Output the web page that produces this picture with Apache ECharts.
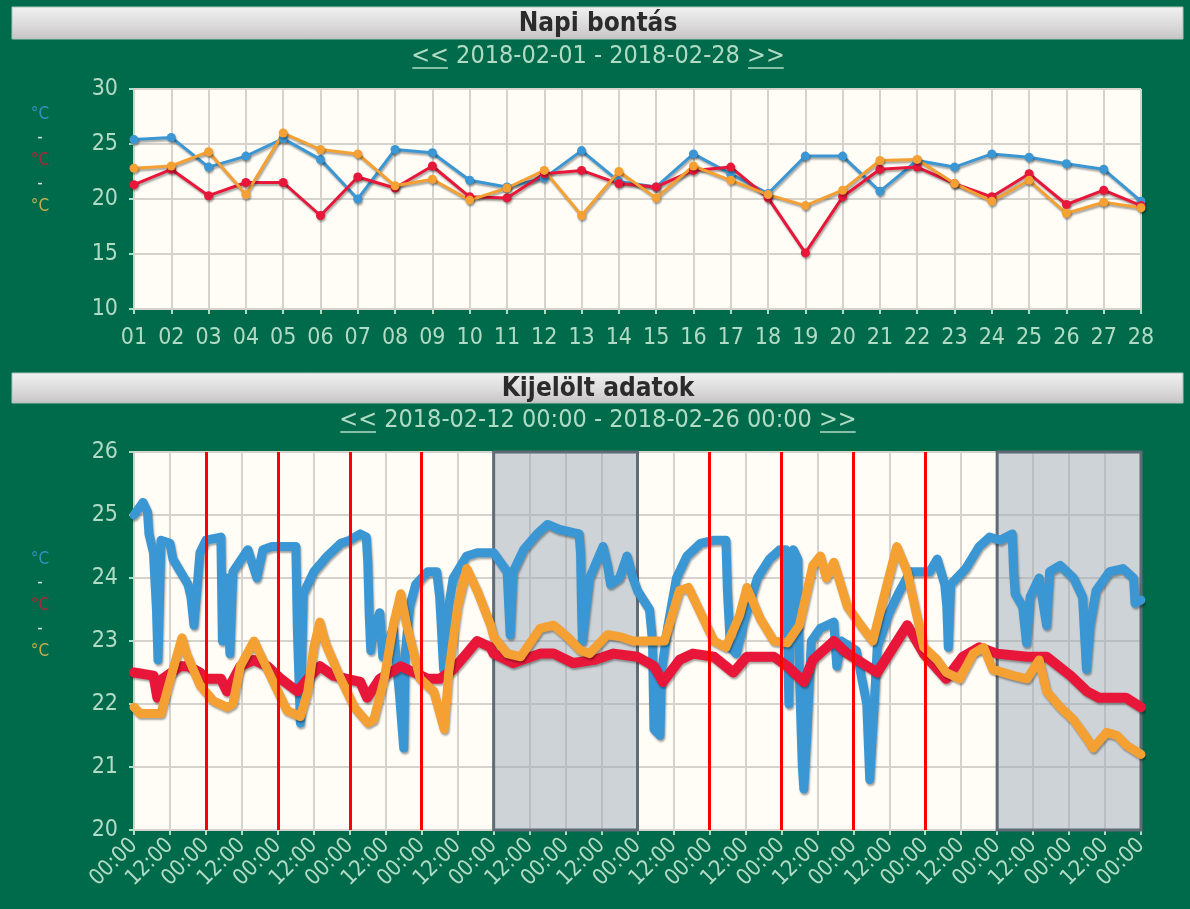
<!DOCTYPE html>
<html>
<head>
<meta charset="utf-8">
<title>Napi bontás</title>
<script src="https://cdn.jsdelivr.net/npm/echarts@6/dist/echarts.min.js"></script>
<style>
  html, body { margin: 0; padding: 0; background: #006b4a; }
  #chart { width: 1190px; height: 909px; }
</style>
</head>
<body>
<div id="chart"></div>
<script>
// napi bontás: 2018-02-01 .. 2018-02-28
var days = ['01','02','03','04','05','06','07','08','09','10','11','12','13','14',
            '15','16','17','18','19','20','21','22','23','24','25','26','27','28'];
var dailyBlue   = [25.4,25.6,22.9,23.9,25.5,23.6,20.0,24.5,24.2,21.7,21.1,21.9,24.4,21.6,
                   21.1,24.1,22.3,20.5,23.9,23.9,20.7,23.5,22.9,24.1,23.8,23.2,22.7,19.8];
var dailyRed    = [21.3,22.7,20.3,21.5,21.5,18.5,22.0,21.0,23.0,20.2,20.1,22.3,22.6,21.4,
                   21.1,22.6,22.9,20.1,15.1,20.2,22.7,22.9,21.4,20.2,22.3,19.5,20.8,19.4];
var dailyOrange = [22.8,23.0,24.3,20.4,26.0,24.5,24.1,21.2,21.8,19.9,21.0,22.6,18.5,22.5,
                   20.1,23.0,21.7,20.4,19.4,20.8,23.5,23.6,21.4,19.8,21.7,18.7,19.7,19.2];

// kijelölt adatok: 2018-02-12 00:00 .. 2018-02-26 00:00, [óra a kezdettől, °C]
var selBlue = [[0,25.0],[3,25.2],[4.5,25.05],[5,24.7],[6.5,24.4],[7.5,23.5],[8,22.7],[9,24.6],[12,24.55],
  [13,24.3],[18,23.9],[19,23.7],[20,23.25],[22,24.4],[24,24.6],[29,24.65],[29.5,23.0],[31,24.0],[32,22.8],
  [33,24.1],[38,24.45],[41,24.0],[43,24.45],[46,24.5],[54,24.5],[54.5,23.2],[55.5,21.7],[56,22.75],
  [56.5,23.75],[60,24.1],[64.5,24.35],[69,24.55],[72,24.6],[75.5,24.7],[77.5,24.65],[78,24.25],[78.5,23.4],
  [79,22.85],[80,23.2],[82,23.45],[83,22.75],[86.5,23.2],[88.5,22.2],[90,21.3],[90.5,22.8],[92,23.55],
  [94,23.9],[98,24.1],[101,24.1],[102,23.7],[103.3,22.55],[105,23.55],[106.5,24.0],[111,24.35],[114.5,24.4],
  [120,24.4],[124.5,24.1],[125.5,23.1],[126.5,24.1],[130,24.45],[134.5,24.7],[138,24.85],[142,24.77],
  [148.5,24.7],[149,24.4],[149.3,23.6],[149.6,23.0],[152,24.0],[156.5,24.5],[158,24.2],[159,23.9],[162,24.0],
  [164.5,24.35],[166.5,24.0],[168,23.8],[172,23.5],[173,23.0],[173.5,21.6],[175.5,21.5],[176,22.5],
  [178,23.2],[181,24.0],[184.5,24.35],[189,24.55],[193.5,24.6],[197.5,24.6],[198,23.8],[199,22.9],
  [201,22.8],[203.5,23.3],[208,24.0],[212,24.3],[215.5,24.45],[217.5,24.45],[218,23.3],[218.5,22.0],
  [219,23.5],[220,24.45],[221.5,24.3],[222,22.5],[223,21.0],[223.5,20.65],[224.5,21.5],[226,23.0],
  [229,23.2],[233.5,23.3],[234.5,22.6],[236,23.0],[241,22.85],[244.5,22.0],[245.5,20.8],[247,22.0],
  [248,22.9],[252,23.45],[255,23.75],[259,24.1],[265.5,24.1],[268,24.3],[270.5,23.9],[271.2,23.55],
  [271.7,22.9],[272.5,23.9],[277.5,24.15],[282,24.5],[285.5,24.65],[289,24.6],[293,24.7],[293.5,24.1],
  [294,23.75],[296.5,23.55],[297.8,22.97],[299,23.7],[302,24.0],[304.5,23.25],[305.5,24.1],[309,24.2],
  [313.5,24.0],[316.5,23.7],[317.8,22.55],[319,23.25],[321,23.8],[325.5,24.1],[330,24.15],[333.5,24.0],
  [334,23.6],[336,23.65]];
var selRed = [[0,22.5],[6.5,22.45],[7.8,22.1],[9.5,22.4],[15.5,22.6],[18,22.6],[22,22.5],[24,22.4],
  [29,22.4],[31,22.2],[35.5,22.6],[40,22.7],[44.5,22.6],[49,22.4],[54.5,22.2],[58,22.4],[62,22.6],
  [66.5,22.45],[71,22.4],[75.5,22.35],[77.8,22.1],[82,22.4],[89,22.6],[93.5,22.5],[98,22.4],[102,22.4],
  [106.5,22.55],[111,22.8],[114.5,23.0],[119,22.9],[120,22.8],[126.5,22.65],[135.5,22.8],[140,22.8],
  [146.5,22.65],[153.5,22.7],[160,22.8],[168,22.75],[173.5,22.6],[176.5,22.35],[182,22.7],[186.5,22.8],
  [193.5,22.75],[200,22.5],[204.5,22.75],[213.5,22.75],[218,22.6],[223.5,22.35],[226.5,22.7],[233.5,23.0],
  [238,22.8],[248,22.5],[258,23.25],[263.5,22.8],[271,22.4],[276.5,22.75],[282,22.9],[288,22.8],
  [298,22.75],[304.5,22.75],[312.5,22.45],[318,22.2],[322,22.1],[331,22.1],[336,21.95]];
var selOrange = [[0,21.95],[2,21.85],[9,21.85],[11,22.2],[14.5,22.8],[16,23.05],[17.5,22.8],[22,22.3],
  [26.5,22.05],[31,21.95],[33,22.0],[35.5,22.6],[40,23.0],[42,22.8],[46.5,22.35],[51,21.9],[55.5,21.8],
  [58,22.2],[60,22.9],[62,23.3],[64,22.95],[69,22.4],[73.5,21.95],[78,21.7],[80,21.75],[83.5,22.4],
  [86.5,23.25],[89,23.75],[91,23.25],[95.5,22.4],[100,22.2],[103.5,21.6],[105,22.5],[108,23.55],
  [111,24.15],[114.5,23.8],[119,23.25],[120,23.07],[124.5,22.8],[129,22.75],[135.5,23.2],[140,23.25],
  [144.5,23.07],[149,22.85],[152,22.8],[158,23.1],[162,23.07],[166.5,23.0],[172.5,23.0],[177,23.0],
  [182,23.8],[185,23.85],[189,23.45],[193.5,23.0],[197.5,22.9],[202,23.4],[204.5,23.85],[209,23.35],
  [213.5,23.0],[218,22.97],[222,23.25],[226.5,24.2],[229,24.35],[231,24.0],[233.5,24.25],[238,23.55],
  [242.5,23.25],[246.5,23.0],[251,23.85],[254.5,24.5],[258,24.1],[263.5,22.9],[268,22.7],[271,22.5],
  [275.5,22.4],[280,22.8],[283.5,22.9],[286.5,22.55],[293.5,22.45],[298,22.4],[302,22.7],[304.5,22.2],
  [309,21.95],[313.5,21.75],[318,21.45],[320,21.3],[324.5,21.55],[328,21.5],[331,21.35],[336,21.2]];

var weekends = [[120, 168], [288, 336]];          // szombat-vasárnap
var markedHours = [24, 48, 72, 96, 192, 216, 240, 264];

var FONT = 'DejaVu Sans Condensed';
var mint = '#b2dbc6';
var colors = ['#3b97d3', '#e8173a', '#f5a033'];

var ctx = document.createElement('canvas').getContext('2d');
function textWidth (t, font) {
  ctx.font = font;
  return ctx.measureText(t).width;
}

function headerBar (y, h, title) {
  return [{
    type: 'rect',
    shape: { x: 12, y: y, width: 1171, height: h },
    style: {
      fill: new echarts.graphic.LinearGradient(0, 0, 0, 1, [
        { offset: 0, color: '#f1f1f1' },
        { offset: 0.55, color: '#dcdbdb' },
        { offset: 1, color: '#c6c3c4' }
      ]),
      stroke: '#a9c4b6', lineWidth: 1
    }
  }, {
    type: 'text', x: 598, y: y + h / 2 + 1,
    style: {
      text: title, font: 'bold 26px "' + FONT + '"', fill: '#2b2b2b',
      align: 'center', verticalAlign: 'middle', textAlign: 'center', textVerticalAlign: 'middle'
    }
  }];
}

// << datum - datum >>  (a nyilak alá húzva)
function navLine (cy, middle) {
  var font = '25px "' + FONT + '"';
  var w1 = textWidth('<<', font), w2 = textWidth(' ' + middle + ' ', font), w3 = textWidth('>>', font);
  var x0 = 598 - (w1 + w2 + w3) / 2;
  var parts = [['<<', x0], [' ' + middle + ' ', x0 + w1], ['>>', x0 + w1 + w2]];
  var els = parts.map(function (p) {
    return {
      type: 'text', x: p[1], y: cy,
      style: { text: p[0], font: font, fill: mint, verticalAlign: 'middle', textVerticalAlign: 'middle' }
    };
  });
  [[x0, w1], [x0 + w1 + w2, w3]].forEach(function (u) {
    els.push({
      type: 'line',
      shape: { x1: u[0] + 1, y1: cy + 12, x2: u[0] + u[1] - 1, y2: cy + 12 },
      style: { stroke: mint, lineWidth: 1.5 }
    });
  });
  return els;
}

function unitLabel (y) {
  return {
    type: 'text', x: 40, y: y,
    style: {
      text: '{b|°C}\n{d|-}\n{r|°C}\n{d|-}\n{o|°C}',
      align: 'center', textAlign: 'center',
      rich: {
        b: { fill: '#3591bd', fontSize: 17, fontFamily: FONT, lineHeight: 23 },
        r: { fill: '#a8283a', fontSize: 17, fontFamily: FONT, lineHeight: 23 },
        o: { fill: '#c3ae4e', fontSize: 17, fontFamily: FONT, lineHeight: 23 },
        d: { fill: '#cfe6da', fontSize: 17, fontFamily: FONT, lineHeight: 23 }
      }
    }
  };
}

var shadow = { shadowColor: 'rgba(0,0,0,0.35)', shadowBlur: 2, shadowOffsetX: 1, shadowOffsetY: 2 };

function dailySeries (data, c) {
  return {
    type: 'line', xAxisIndex: 0, yAxisIndex: 0, data: data,
    symbol: 'circle', symbolSize: 9, showAllSymbol: true,
    lineStyle: Object.assign({ color: c, width: 3 }, shadow),
    itemStyle: Object.assign({ color: c }, shadow)
  };
}
function selSeries (data, c, w) {
  return {
    type: 'line', xAxisIndex: 1, yAxisIndex: 1, data: data,
    symbol: 'none',
    lineStyle: Object.assign({ color: c, width: w, cap: 'round', join: 'round' }, shadow),
    itemStyle: { color: c }
  };
}

var axisCommon = {
  axisLine: { show: true, lineStyle: { color: '#d5d3cc', width: 2 } },
  axisTick: { show: true, length: 5, lineStyle: { color: mint, width: 2 } },
  splitLine: { show: true, lineStyle: { color: '#d6d2cd', width: 2 } }
};

var chart = echarts.init(document.getElementById('chart'));
var option = {
  backgroundColor: '#006b4a',
  animation: false,
  textStyle: { fontFamily: FONT },
  graphic: [].concat(
    headerBar(7, 32, 'Napi bontás'),
    navLine(56, '2018-02-01 - 2018-02-28'),
    headerBar(373, 30, 'Kijelölt adatok'),
    navLine(420, '2018-02-12 00:00 - 2018-02-26 00:00'),
    [unitLabel(103), unitLabel(548)]
  ),
  grid: [
    { left: 134, right: 49, top: 89, height: 220, show: true, backgroundColor: '#fffdf6', borderWidth: 0 },
    { left: 134, right: 49, top: 452, height: 378, show: true, backgroundColor: '#fffdf6', borderWidth: 0 }
  ],
  xAxis: [
    Object.assign({}, axisCommon, {
      gridIndex: 0, type: 'category', data: days, boundaryGap: false,
      axisTick: { show: true, length: 5, interval: 0, lineStyle: { color: mint, width: 2 } },
      axisLabel: { color: mint, fontSize: 23, fontFamily: FONT, margin: 18, interval: 0 },
      splitLine: { show: true, interval: 0, lineStyle: { color: '#d6d2cd', width: 2 } }
    }),
    Object.assign({}, axisCommon, {
      gridIndex: 1, type: 'value', min: 0, max: 336, interval: 12,
      axisLabel: {
        color: mint, fontSize: 22, fontFamily: FONT, margin: 12, rotate: 45,
        formatter: function (v) { return v % 24 === 0 ? '00:00' : '12:00'; }
      }
    })
  ],
  yAxis: [
    Object.assign({}, axisCommon, {
      gridIndex: 0, type: 'value', min: 10, max: 30, interval: 5,
      axisLabel: { color: mint, fontSize: 23, fontFamily: FONT, margin: 16 }
    }),
    Object.assign({}, axisCommon, {
      gridIndex: 1, type: 'value', min: 20, max: 26, interval: 1,
      axisLabel: { color: mint, fontSize: 23, fontFamily: FONT, margin: 16 }
    })
  ],
  series: [
    dailySeries(dailyBlue, colors[0]),
    dailySeries(dailyRed, colors[1]),
    dailySeries(dailyOrange, colors[2]),
    selSeries(selBlue, colors[0], 9),
    selSeries(selRed, colors[1], 10),
    selSeries(selOrange, colors[2], 9),
    {
      // hétvégék és jelölt napok a görbék fölött
      type: 'line', xAxisIndex: 1, yAxisIndex: 1, data: [], z: 10, silent: true,
      markArea: {
        silent: true,
        itemStyle: { color: 'rgba(155,169,181,0.5)', borderColor: '#5f6b77', borderWidth: 3 },
        data: weekends.map(function (w) { return [{ xAxis: w[0] }, { xAxis: w[1] }]; })
      },
      markLine: {
        silent: true, symbol: ['none', 'none'], label: { show: false },
        lineStyle: { color: '#ff0000', width: 3, type: 'solid' },
        data: markedHours.map(function (h) { return { xAxis: h }; })
      }
    }
  ]
};
chart.setOption(option);
</script>
</body>
</html>
